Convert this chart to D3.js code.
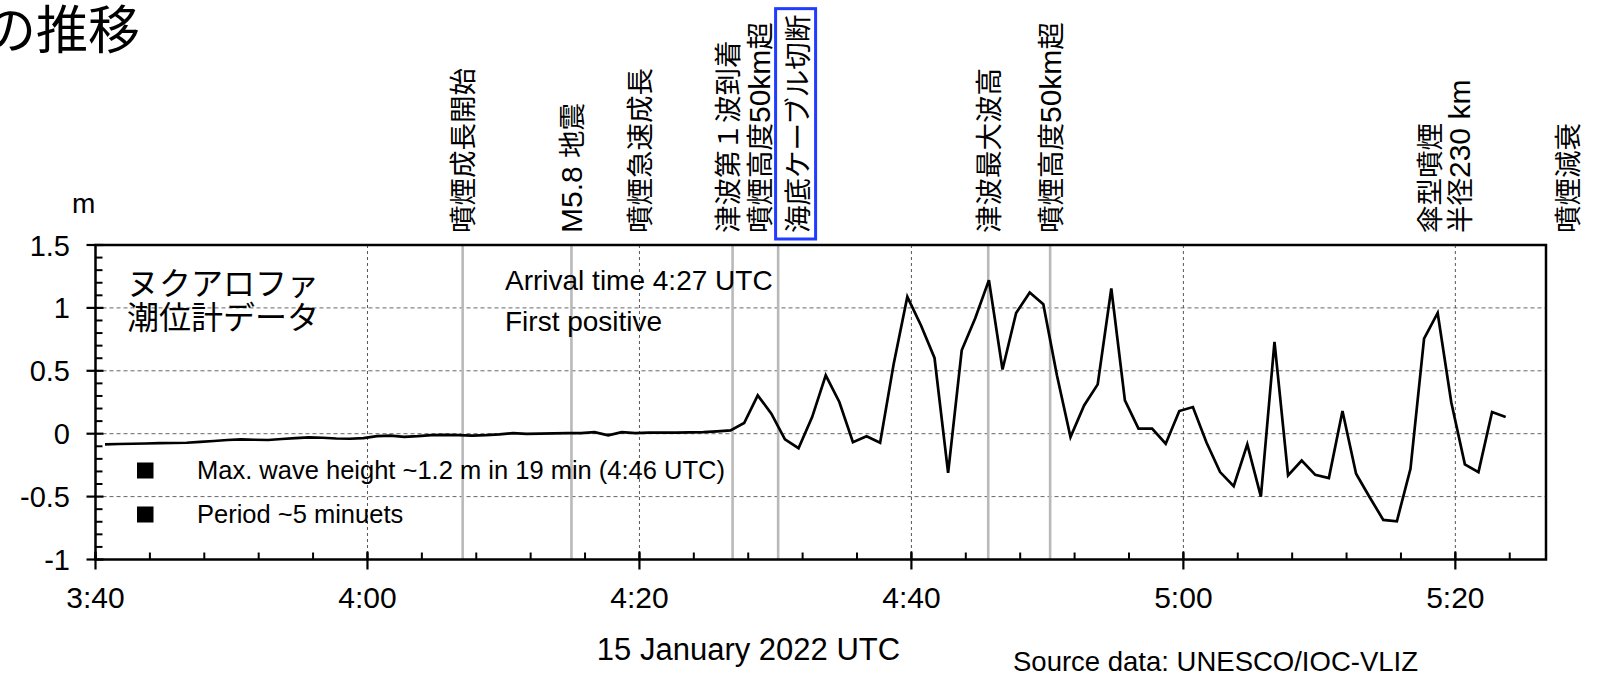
<!DOCTYPE html>
<html>
<head>
<meta charset="utf-8">
<script src="https://cdn.jsdelivr.net/npm/d3@7"></script>
<style>
  body { margin: 0; background: #fff; }
  text { white-space: pre; }
</style>
</head>
<body>
<svg id="chart" width="1600" height="677"></svg>
<script>
// Nuku'alofa tide gauge, one reading per minute (metres), first sample at 03:40:42 UTC
const firstSample = "2022-01-15 03:40:42";
const seaLevel = [
  -0.085, -0.082, -0.080, -0.078, -0.075, -0.074, -0.072, -0.065, -0.058, -0.050,
  -0.045, -0.048, -0.050, -0.042, -0.035, -0.030, -0.032, -0.038, -0.040, -0.035,
  -0.020, -0.015, -0.025, -0.020, -0.012, -0.010, -0.012, -0.015, -0.012, -0.005,
   0.005, -0.002,  0.000,  0.003,  0.005,  0.005,  0.013, -0.013,  0.013,  0.005,
   0.008,  0.008,  0.008,  0.010,  0.012,  0.018,  0.026,  0.085,  0.305,  0.159,
  -0.045, -0.115,  0.132,  0.464,  0.252, -0.067, -0.021, -0.072,  0.557,  1.088,
   0.862,  0.602, -0.311,  0.663,  0.920,  1.221,  0.510,  0.960,  1.122,  1.030,
   0.464, -0.027,  0.225,  0.392,  1.154,  0.265,  0.040,  0.040, -0.080,  0.180,
   0.212, -0.070, -0.305, -0.417, -0.085, -0.500,  0.730, -0.332, -0.213, -0.327,
  -0.353,  0.180, -0.318, -0.505, -0.685, -0.696, -0.279,  0.756,  0.960,  0.250,
  -0.244, -0.305,  0.172,  0.132
];

// Axis
const xDomain = ["2022-01-15 03:40:00", "2022-01-15 05:26:40"];
const xTickTimes = ["03:40", "04:00", "04:20", "04:40", "05:00", "05:20"];
const xTickLabels = ["3:40", "4:00", "4:20", "4:40", "5:00", "5:20"];
const yTicks = [-1, -0.5, 0, 0.5, 1, 1.5];
const yTickLabels = ["-1", "-0.5", "0", "0.5", "1", "1.5"];

// Eruption / tsunami events (UTC)
const eventTimes = ["04:07:00", "04:15:00", "04:20:00", "04:26:51", "04:30:12", "04:45:39", "04:50:12", "05:20:00", "05:28:00"];
const eventLabels = [
  ["噴煙成長開始"],
  ["M5.8 地震"],
  ["噴煙急速成長"],
  ["津波第１波到着", "噴煙高度50km超"],
  ["海底ケーブル切断"],
  ["津波最大波高"],
  ["噴煙高度50km超"],
  ["傘型噴煙", "半径230 km"],
  ["噴煙減衰"]
];
const eventHasLine = [true, true, false, true, true, true, true, false, false];
const highlightedEvent = 4;

const notes = ["Arrival time 4:27 UTC", "First positive"];
const stationName = ["ヌクアロファ", "潮位計データ"];
const legendItems = ["Max. wave height ~1.2 m in 19 min (4:46 UTC)", "Period ~5 minuets"];

// ---------- layout ----------
const plot = { left: 95.5, right: 1546, top: 245, bottom: 559.5 };
const labelBottom = 233;
// horizontal offset (px) of each label column from its event time
const labelColumnOffsets = [[0], [0], [0], [-5, 27], [19], [0], [0], [-26, 4], [3]];

const LATIN = "'Liberation Sans', Arial, Helvetica, sans-serif";
const CJK = "'Noto Sans CJK JP', 'Noto Sans', sans-serif";

const parseFull = d3.utcParse("%Y-%m-%d %H:%M:%S");
const parseHM = d3.utcParse("%Y-%m-%d %H:%M");
const atDay = s => s.length > 5 ? parseFull("2022-01-15 " + s) : parseHM("2022-01-15 " + s);

const svg = d3.select("#chart");

const x = d3.scaleUtc().domain(xDomain.map(parseFull)).range([plot.left, plot.right]);
const y = d3.scaleLinear().domain([-1, 1.5]).range([plot.bottom, plot.top]);

const t0 = parseFull(firstSample);
const series = seaLevel.map((v, i) => ({ t: d3.utcMinute.offset(t0, i), v }));

// grid: dashed horizontals, dotted verticals every 20 minutes
svg.append("g").selectAll("line").data(yTicks.filter(v => v > -1 && v < 1.5)).join("line")
  .attr("x1", plot.left).attr("x2", plot.right)
  .attr("y1", d => y(d)).attr("y2", d => y(d))
  .attr("stroke", "#666").attr("stroke-width", 1).attr("stroke-dasharray", "4,3");

svg.append("g").selectAll("line").data(xTickTimes.slice(1)).join("line")
  .attr("x1", d => x(atDay(d))).attr("x2", d => x(atDay(d)))
  .attr("y1", plot.top).attr("y2", plot.bottom)
  .attr("stroke", "#555").attr("stroke-width", 1).attr("stroke-dasharray", "3,3");

// event markers
svg.append("g").selectAll("line")
  .data(eventTimes.filter((d, i) => eventHasLine[i])).join("line")
  .attr("x1", d => x(atDay(d))).attr("x2", d => x(atDay(d)))
  .attr("y1", plot.top).attr("y2", plot.bottom)
  .attr("stroke", "#b9b9b9").attr("stroke-width", 2.6);

// sea level trace
svg.append("path").datum(series)
  .attr("fill", "none").attr("stroke", "#000").attr("stroke-width", 2.7)
  .attr("stroke-linejoin", "miter")
  .attr("d", d3.line().x(d => x(d.t)).y(d => y(d.v)));

// frame
svg.append("rect")
  .attr("x", plot.left).attr("y", plot.top)
  .attr("width", plot.right - plot.left).attr("height", plot.bottom - plot.top)
  .attr("fill", "none").attr("stroke", "#000").attr("stroke-width", 2.5);

// y axis ticks
const yMinor = d3.range(-10, 16).map(i => i / 10).filter(v => Math.abs(v * 2 - Math.round(v * 2)) > 1e-6);
svg.append("g").selectAll("line").data(yMinor).join("line")
  .attr("x1", plot.left).attr("x2", plot.left + 7)
  .attr("y1", d => y(d)).attr("y2", d => y(d))
  .attr("stroke", "#000").attr("stroke-width", 2);
svg.append("g").selectAll("line").data(yTicks).join("line")
  .attr("x1", plot.left - 9).attr("x2", plot.left + 8)
  .attr("y1", d => y(d)).attr("y2", d => y(d))
  .attr("stroke", "#000").attr("stroke-width", 2.2);
svg.append("g").selectAll("text").data(yTicks).join("text")
  .attr("x", 70).attr("y", d => y(d) + 10.5)
  .attr("text-anchor", "end").attr("font-family", LATIN).attr("font-size", 29)
  .text((d, i) => yTickLabels[i]);

// x axis ticks: major every 20 min, minor every 4 min
const xMinor = d3.utcMinute.every(4).range(x.domain()[0], x.domain()[1]);
svg.append("g").selectAll("line").data(xMinor).join("line")
  .attr("x1", d => x(d)).attr("x2", d => x(d))
  .attr("y1", plot.bottom).attr("y2", plot.bottom - 7)
  .attr("stroke", "#000").attr("stroke-width", 2);
svg.append("g").selectAll("line").data(xTickTimes).join("line")
  .attr("x1", d => x(atDay(d))).attr("x2", d => x(atDay(d)))
  .attr("y1", plot.bottom - 8).attr("y2", plot.bottom + 10)
  .attr("stroke", "#000").attr("stroke-width", 2.2);
svg.append("g").selectAll("text").data(xTickTimes).join("text")
  .attr("x", d => x(atDay(d))).attr("y", 608)
  .attr("text-anchor", "middle").attr("font-family", LATIN).attr("font-size", 30)
  .text((d, i) => xTickLabels[i]);

// axis titles and source
svg.append("text").attr("x", 748.5).attr("y", 660).attr("text-anchor", "middle")
  .attr("font-family", LATIN).attr("font-size", 31).text("15 January 2022 UTC");
svg.append("text").attr("x", 1013).attr("y", 670.5)
  .attr("font-family", LATIN).attr("font-size", 27.5).text("Source data: UNESCO/IOC-VLIZ");
svg.append("text").attr("x", 72).attr("y", 213)
  .attr("font-family", LATIN).attr("font-size", 28).text("m");

// heading (continues off the left edge)
svg.append("text").attr("x", -16).attr("y", 49)
  .attr("font-family", CJK).attr("font-size", 52).text("の推移");

// station name
stationName.forEach((s, i) => {
  svg.append("text").attr("x", 127).attr("y", 295 + i * 34)
    .attr("font-family", CJK).attr("font-size", 32).text(s);
});

// arrival notes
notes.forEach((s, i) => {
  svg.append("text").attr("x", 505).attr("y", 290 + i * 41)
    .attr("font-family", LATIN).attr("font-size", 28).text(s);
});

// legend-style bullets
legendItems.forEach((s, i) => {
  const cy = 470.5 + i * 44;
  svg.append("rect").attr("x", 137).attr("y", cy - 8).attr("width", 16.5).attr("height", 16)
    .attr("fill", "#000");
  svg.append("text").attr("x", 197).attr("y", cy + 8.5)
    .attr("font-family", LATIN).attr("font-size", 25.5).text(s);
});

// rotated event labels above the plot
function appendRuns(textSel, str) {
  str.split(/([\x20-\x7E]+)/).filter(p => p.length).forEach(p => {
    const latin = /^[\x20-\x7E]+$/.test(p);
    textSel.append("tspan")
      .attr("font-family", latin ? LATIN : CJK)
      .attr("font-size", latin ? 30 : 27.5)
      .text(p);
  });
}

const labelSize = 27.5;
eventTimes.forEach((tStr, i) => {
  const cx = x(atDay(tStr));
  eventLabels[i].forEach((line, j) => {
    const colCenter = cx + labelColumnOffsets[i][j];
    const g = svg.append("g")
      .attr("transform", `translate(${colCenter + 0.38 * labelSize},${labelBottom}) rotate(-90)`);
    const t = g.append("text").attr("x", 0).attr("y", 0).attr("text-anchor", "start");
    appendRuns(t, line);
    if (i === highlightedEvent) {
      const b = t.node().getBBox();
      g.insert("rect", "text")
        .attr("x", b.x - 6).attr("y", b.y)
        .attr("width", b.width + 12).attr("height", b.height)
        .attr("fill", "none").attr("stroke", "#1f3cff").attr("stroke-width", 3);
    }
  });
});
</script>
</body>
</html>
